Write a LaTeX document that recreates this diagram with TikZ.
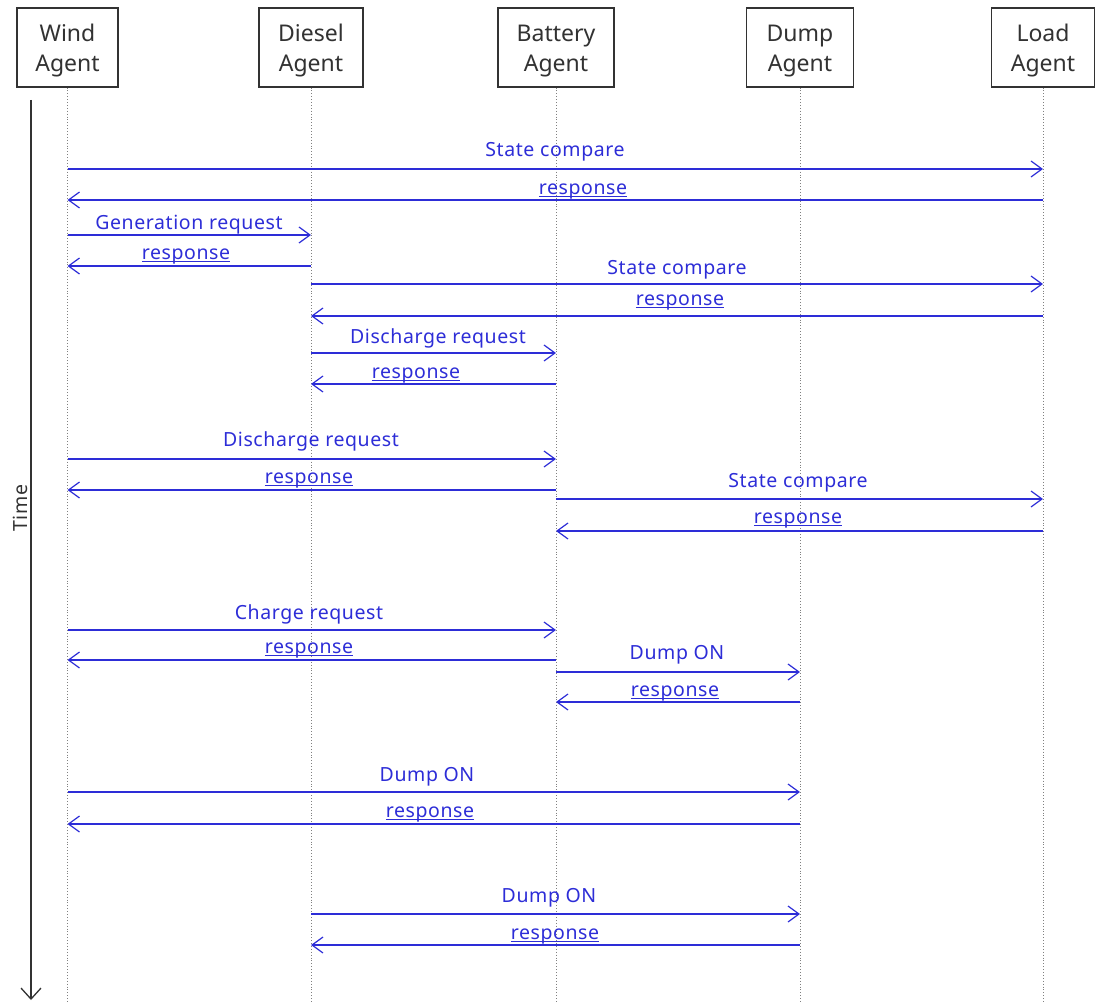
\documentclass[tikz,border=0pt]{standalone}
\usepackage{fontspec}
\setmainfont{Noto Sans}
\newfontfamily\lblfont[LetterSpace=3]{Noto Sans}
\usetikzlibrary{arrows.meta}
\definecolor{msgblue}{RGB}{45,45,215}
\definecolor{boxgray}{RGB}{50,50,50}
\newcommand\myul[1]{\leavevmode\setbox0=\hbox{#1}\rlap{\rule[-3pt]{\wd0}{1.2pt}}\box0}
\tikzset{
  agent/.style={draw=boxgray, line width=1.1pt, fill=white, minimum height=79pt, inner sep=0pt},
  agenttext/.style={align=center, text=boxgray, inner sep=0pt, yshift=-3.5pt, font=\fontsize{23}{30}\selectfont},
  life/.style={draw=gray, line width=0.9pt, dotted},
  msg/.style={draw=msgblue, line width=1.2pt, -{Straight Barb[length=11pt,width=16pt,line width=1.2pt]}},
  lbl/.style={text=msgblue, font=\lblfont\fontsize{19.5}{23}\selectfont, inner sep=0pt, anchor=base},
  timeaxis/.style={draw=boxgray, line width=1.3pt, -{Straight Barb[length=11pt,width=20pt,line width=1.3pt]}},
}
\newcommand\mymsg[7]{%
  \draw[msg] (#1 |- 0,#3) -- (#2 |- 0,#3);
  \node[lbl] (#7) at (#4,#5) {#6};}
\begin{document}
\begin{tikzpicture}[x=1pt,y=-1pt]
\useasboundingbox (0,0) rectangle (1099,1003);
\node[agent, minimum width=101pt, label={[agenttext]center:{Wind\\Agent}}] (W) at (67.5,47.5) {};
\node[agent, minimum width=104pt, label={[agenttext]center:{Diesel\\Agent}}] (D) at (311,47.5) {};
\node[agent, minimum width=116pt, label={[agenttext]center:{Battery\\Agent}}] (B) at (556,47.5) {};
\node[agent, minimum width=107pt, label={[agenttext]center:{Dump\\Agent}}] (U) at (800,47.5) {};
\node[agent, minimum width=103pt, label={[agenttext]center:{Load\\Agent}}] (L) at (1043,47.5) {};
\foreach \a in {W,D,B,U,L} {\draw[life] (\a.south) -- (\a.south |- 0,1003);}
\coordinate (t0) at (31,100);
\coordinate (t1) at (31,1000);
\draw[timeaxis] (t0) -- (t1);
\node[rotate=90, text=boxgray, font=\lblfont\fontsize{19.5}{23}\selectfont, inner sep=0pt] (tl) at (20,508) {Time};
\mymsg{W}{L}{169}{555}{157}{State compare}{l1}
\mymsg{L}{W}{200}{583}{194}{\myul{response}}{l2}
\mymsg{W}{D}{235}{189}{229}{Generation request}{l3}
\mymsg{D}{W}{266}{186}{259}{\myul{response}}{l4}
\mymsg{D}{L}{284}{677}{274}{State compare}{l5}
\mymsg{L}{D}{316}{680}{305}{\myul{response}}{l6}
\mymsg{D}{B}{353}{438}{343}{Discharge request}{l7}
\mymsg{B}{D}{384}{416}{378}{\myul{response}}{l8}
\mymsg{W}{B}{459}{311}{446}{Discharge request}{l9}
\mymsg{B}{W}{490}{309}{483}{\myul{response}}{l10}
\mymsg{B}{L}{499}{798}{487}{State compare}{l11}
\mymsg{L}{B}{531}{798}{523}{\myul{response}}{l12}
\mymsg{W}{B}{630}{309}{619}{Charge request}{l13}
\mymsg{B}{W}{660}{309}{653}{\myul{response}}{l14}
\mymsg{B}{U}{672}{677}{659}{Dump ON}{l15}
\mymsg{U}{B}{702}{675}{696}{\myul{response}}{l16}
\mymsg{W}{U}{792}{427}{781}{Dump ON}{l17}
\mymsg{U}{W}{824}{430}{817}{\myul{response}}{l18}
\mymsg{D}{U}{914}{549}{902}{Dump ON}{l19}
\mymsg{U}{D}{945}{555}{939}{\myul{response}}{l20}
\end{tikzpicture}
\end{document}
